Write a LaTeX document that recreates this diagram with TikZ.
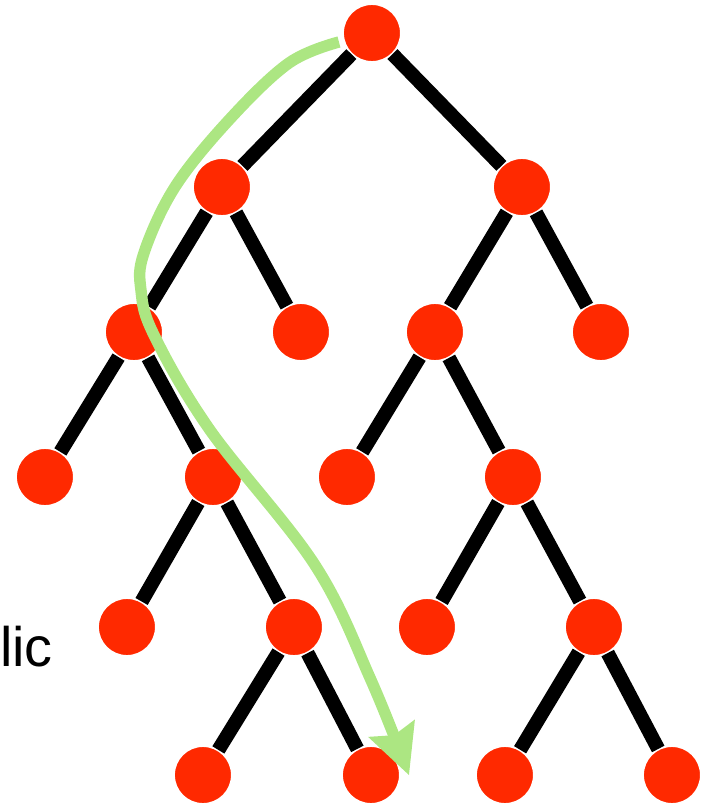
\documentclass[tikz,border=0pt]{standalone}
\usepackage{fontspec}
\setmainfont{Liberation Sans}
\usetikzlibrary{arrows.meta}
\definecolor{nodered}{RGB}{255,41,0}
\definecolor{walkgreen}{RGB}{172,230,130}

\begin{document}
\begin{tikzpicture}[x=0.02cm, y=-0.02cm,
    dot/.style={circle, fill=nodered, draw=white, line width=0.8pt, minimum size=1.15cm, inner sep=0pt},
    branch/.style={line width=8pt},
    walk/.style={draw=walkgreen, line width=6.5pt,
      -{Stealth[length=1cm, width=1cm, inset=0.15cm, line width=0pt]}}]
      % \draw[help lines, step=50] (0,0) grid (699,805);

      % Bounding box
      \path (0,0) rectangle (699,805);

      \draw (370,33) node[dot] (root) {};

      \draw (220,187) node[dot] (l) {};
      \draw (520,187) node[dot] (r) {};

      \draw (132,332) node[dot] (ll) {};
      \draw (299,332) node[dot] (lr) {};
      \draw (433,332) node[dot] (rl) {};
      \draw (599,332) node[dot] (rr) {};

      \draw (43,477) node[dot] (lll) {};
      \draw (211,477) node[dot] (llr) {};
      \draw (345,477) node[dot] (rll) {};
      \draw (511,477) node[dot] (rlr) {};

      \draw (125,627) node[dot] (llrl) {};
      \draw (292,627) node[dot] (llrr) {};
      \draw (425,627) node[dot] (rlrl) {};
      \draw (592,627) node[dot] (rlrr) {};

      \draw (201,775) node[dot] (llrrl) {};
      \draw (369,775) node[dot] (llrrr) {};
      \draw (503,775) node[dot] (rlrrl) {};
      \draw (670,775) node[dot] (rlrrr) {};

      \draw (51,666) node (label)[anchor=base east, inner sep=0pt, font=\fontsize{31.7}{38}\selectfont] {lic};

      \draw [branch] (root) -- (l);
      \draw [branch] (root) -- (r);
      \draw [branch] (l) -- (ll);
      \draw [branch] (l) -- (lr);
      \draw [branch] (r) -- (rl);
      \draw [branch] (r) -- (rr);
      \draw [branch] (ll) -- (lll);
      \draw [branch] (ll) -- (llr);
      \draw [branch] (rl) -- (rll);
      \draw [branch] (rl) -- (rlr);
      \draw [branch] (llr) -- (llrl);
      \draw [branch] (llr) -- (llrr);
      \draw [branch] (rlr) -- (rlrl);
      \draw [branch] (rlr) -- (rlrr);
      \draw [branch] (llrr) -- (llrrl);
      \draw [branch] (llrr) -- (llrrr);
      \draw [branch] (rlrr) -- (rlrrl);
      \draw [branch] (rlrr) -- (rlrrr);

      % search path down to the leaf
      \coordinate (from) at ([shift={(-33,9)}]root.center);
      \coordinate (to) at ([shift={(38,0)}]llrrr.center);
      \draw [walk] plot [smooth, tension=0.6] coordinates {(from) (287,63) (227,120) (173,187) (142,253) (139,290) (152,335) (208,430) (313,565) (369,680) (to)};
    \end{tikzpicture}
\end{document}
